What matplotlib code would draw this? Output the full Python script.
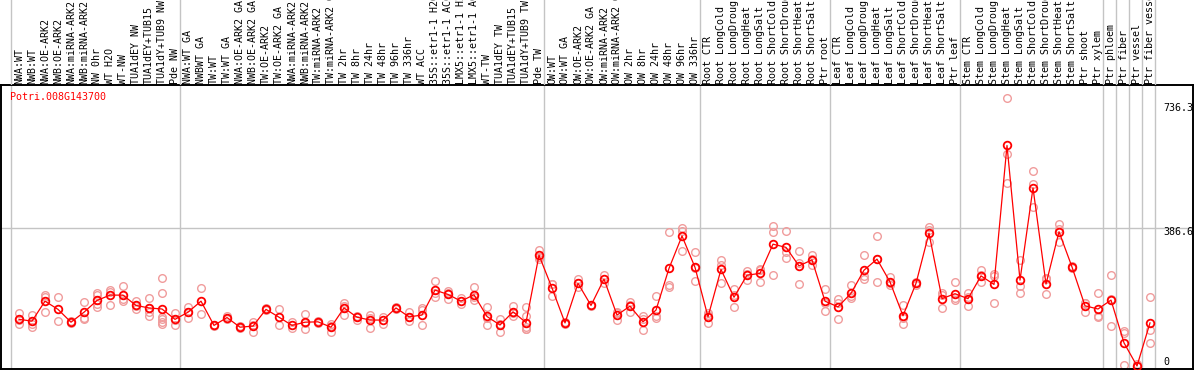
import matplotlib
matplotlib.use("Agg")
import matplotlib.pyplot as plt
import matplotlib.transforms as mtransforms

gene = "Potri.008G143700"

labels = [
    "NWA:WT", "NWB:WT", "NWA:OE-ARK2", "NWB:OE-ARK2", "NWA:miRNA-ARK2", "NWB:miRNA-ARK2",
    "NW 0hr", "WT H2O", "WT-NW", "TUA1dEY NW", "TUA1dEY+TUB15", "TUA1dY+TUB9 NW", "Pde NW",
    "NWA:WT GA", "NWBWT GA", "TW:WT", "TW:WT GA", "NWA:OE-ARK2 GA", "NWB:OE-ARK2 GA",
    "TW:OE-ARK2", "TW:OE-ARK2 GA", "NWA:miRNA-ARK2", "NWB:miRNA-ARK2", "TW:miRNA-ARK2",
    "TW:miRNA-ARK2 GA", "TW 2hr", "TW 8hr", "TW 24hr", "TW 48hr", "TW 96hr", "TW 336hr",
    "WT ACC", "35S::etr1-1 H2O", "35S::etr1-1 ACC", "LMX5::etr1-1 H2O", "LMX5::etr1-1 ACC",
    "WT-TW", "TUA1dEY TW", "TUA1dEY+TUB15", "TUA1dY+TUB9 TW", "Pde TW",
    "OW:WT", "OW:WT GA", "OW:OE-ARK2", "OW:OE-ARK2 GA", "OW:miRNA-ARK2", "OW:miRNA-ARK2 GA",
    "OW 2hr", "OW 8hr", "OW 24hr", "OW 48hr", "OW 96hr", "OW 336hr",
    "Root CTR", "Root LongCold", "Root LongDrought", "Root LongHeat", "Root LongSalt",
    "Root ShortCold", "Root ShortDrought", "Root ShortHeat", "Root ShortSalt", "Ptr root",
    "Leaf CTR", "Leaf LongCold", "Leaf LongDrought", "Leaf LongHeat", "Leaf LongSalt",
    "Leaf ShortCold", "Leaf ShortDrought", "Leaf ShortHeat", "Leaf ShortSalt", "Ptr leaf",
    "Stem CTR", "Stem LongCold", "Stem LongDrought", "Stem LongHeat", "Stem LongSalt",
    "Stem ShortCold", "Stem ShortDrought", "Stem ShortHeat", "Stem ShortSalt",
    "Ptr shoot", "Ptr xylem", "Ptr phloem", "Ptr fiber", "Ptr vessel", "Ptr fiber vessel",
]

# first sample index of each group (last entry = end)
group_starts = [0, 13, 41, 53, 63, 73, 84, 85, 86, 87, 88]

means = [
    131, 126, 182, 159, 123, 151, 184, 199, 199, 170, 163, 160, 131,
    151, 182, 114, 136, 109, 112, 159, 137, 114, 123, 124, 109, 163, 137, 129, 129, 163,
    138, 143, 213, 201, 182, 200, 139, 115, 152, 122, 311,
    219, 121, 232, 170, 244, 143, 168, 124, 157, 274, 365, 277,
    138, 271, 193, 255, 260, 342, 333, 281, 298, 182,
    166, 204, 269, 300, 236, 141, 232, 373, 189, 203,
    189, 253, 229, 619, 241, 500, 230, 377, 278, 169, 160,
    185, 65, 0, 121,
]

reps = [
    [148, 118, 128], [143, 110, 118], [199, 193, 151], [193, 125], [125, 121],
    [179, 136, 132], [204, 198, 174, 166], [214, 208, 172], [224, 187, 183],
    [183, 161, 168], [190, 162, 151, 140], [246, 204, 138, 132, 124, 117], [148, 115, 130],
    [166, 135, 152], [218, 145], [116, 112], [140, 132], [112, 106], [124, 96, 116],
    [162, 156], [159, 115], [124, 108], [145, 104, 120], [127, 121], [118, 96, 113],
    [177, 144, 168], [140, 130], [144, 107, 136], [137, 119], [165, 161], [151, 125, 138],
    [164, 157, 116], [239, 194, 206], [211, 187, 205], [174, 190], [221, 185, 194],
    [166, 115, 136], [131, 95, 119], [169, 139, 148], [166, 140, 110, 105, 103],
    [327, 300, 306],
    [231, 197, 229], [123, 119], [243, 221, 232], [172, 168], [255, 233], [151, 130, 148],
    [180, 152, 172], [141, 100, 131], [196, 134, 141], [375, 227, 221], [388, 380, 322],
    [319, 239, 275],
    [150, 122, 142], [298, 232, 283], [216, 165, 198], [267, 241, 258], [270, 237, 273],
    [393, 375, 255], [379, 321, 302], [323, 229, 290], [312, 283, 300], [216, 154, 176],
    [188, 131, 178], [227, 190, 196], [311, 243, 253], [365, 235, 300], [250, 228, 232],
    [171, 117, 135], [236, 228], [389, 348, 382], [204, 164, 198], [235, 190, 185],
    [204, 168, 195], [269, 235, 255], [257, 176, 254], [751, 595, 515], [298, 225, 204],
    [547, 510, 447], [243, 201, 246], [398, 349, 385], [281, 275], [176, 152, 178],
    [204, 137, 140],
    [255, 112, 188], [97, 94, 3], [5, 0, 0], [194, 101, 65],
]

yticks = [0, 386.6, 736.3]

W, H = 1194, 370
fig = plt.figure(figsize=(W / 100, H / 100), dpi=100)

# pixel layout
x_left, x_right = 1, 1193
y_top, y_bot = 85, 369
ax = fig.add_axes([x_left / W, 1 - y_bot / H, (x_right - x_left) / W, (y_bot - y_top) / H])
ax_lab = fig.add_axes([x_left / W, 1 - y_top / H, (x_right - x_left) / W, y_top / H])

# index i sits at pixel 19 + 13*i
xlim = ((x_left - 19) / 13, (x_right - 19) / 13)
ax.set_xlim(xlim)
ax_lab.set_xlim(xlim)
ax.set_ylim(-8.4, 788.8)
ax_lab.set_ylim(0, 1)
ax_lab.axis("off")

grid_col = "#c4c4c4"
for b in group_starts:
    ax.axvline(b - 0.59, color=grid_col, lw=1.0, zorder=1)
    ax_lab.axvline(b - 0.59, color=grid_col, lw=1.0, zorder=1)
ax.axhline(yticks[1], color=grid_col, lw=1.0, zorder=1)

xs = list(range(len(means)))

# replicates
rx, ry = [], []
for i, r in enumerate(reps):
    for v in r:
        rx.append(i)
        ry.append(v)
ax.plot(rx, ry, ls="none", marker="o", ms=5.5, mfc="none", mec="#f09c9c", mew=1.0, zorder=2)

# mean line
ax.plot(xs, means, color="red", lw=0.9, zorder=3)
ax.plot(xs, means, ls="none", marker="o", ms=5.5, mfc="none", mec="red", mew=1.3, zorder=4)

mono = "DejaVu Sans Mono"
fs = 7.2

for s in ["left", "right", "top", "bottom"]:
    ax.spines[s].set_linewidth(1.4)
    ax.spines[s].set_color("black")
ax.set_xticks([])
ax.set_yticks([])

# sample labels
for i, lab in enumerate(labels):
    ax_lab.text(i, 0.012, lab, rotation=90, ha="center", va="bottom",
                fontsize=fs, family=mono, color="black")

# gene name
ax.text(0.0075, 0.958, gene, transform=ax.transAxes, ha="left", va="center",
        fontsize=fs, family=mono, color="red")

# value labels on the right
offsets = {0: 4, 386.6: -4, 736.3: -4}
for v in yticks:
    tr = ax.get_yaxis_transform() + mtransforms.ScaledTranslation(0, offsets[v] / 100, fig.dpi_scale_trans)
    ax.text(0.9755, v, f"{v:g}", transform=tr, ha="left", va="center",
            fontsize=fs, family=mono, color="black")

fig.savefig("out.png", dpi=100)
